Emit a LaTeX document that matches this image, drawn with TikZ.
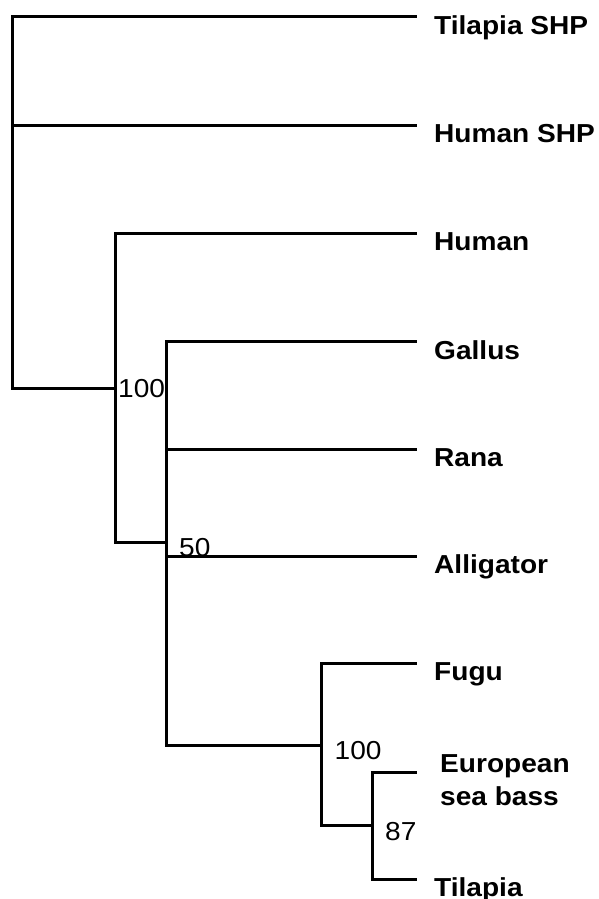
\documentclass[tikz,border=0pt]{standalone}
\usepackage{fontspec}
\setmainfont[FakeStretch=1.08]{Liberation Sans}
\begin{document}
\begin{tikzpicture}[x=1pt,y=-1pt,
  branch/.style={line width=3pt, line cap=rect, line join=miter},
  leaflabel/.style={font=\fontsize{26}{33}\selectfont\bfseries, anchor=base west, inner sep=0pt, align=left},
  support/.style={font=\fontsize{26}{31}\selectfont, anchor=base west, inner sep=0pt}]
\useasboundingbox (0,0) rectangle (598,899);
% internal nodes
\coordinate (r) at (12.5,388.5);
\coordinate (A) at (115.5,388.5);
\coordinate (B) at (166.5,542.5);
\coordinate (C) at (321.5,745.5);
\coordinate (D) at (372.5,825.5);
% leaf ends
\coordinate (e1) at (415,16.5);
\coordinate (e2) at (415,125.5);
\coordinate (e3) at (415,233.5);
\coordinate (e4) at (415,341.5);
\coordinate (e5) at (415,449.5);
\coordinate (e6) at (415,556.5);
\coordinate (e7) at (415,663.5);
\coordinate (e8) at (415,772.5);
\coordinate (e9) at (415,879.5);
% branches
\draw[branch] (r) |- (e1);
\draw[branch] (r) |- (e2);
\draw[branch] (r) -- (A);
\draw[branch] (A) |- (e3);
\draw[branch] (A) |- (B);
\draw[branch] (B) |- (e4);
\draw[branch] (B) |- (e5);
\draw[branch] (B) |- (e6);
\draw[branch] (B) |- (C);
\draw[branch] (C) |- (e7);
\draw[branch] (C) |- (D);
\draw[branch] (D) |- (e8);
\draw[branch] (D) |- (e9);
% leaf labels
\node[leaflabel] (l1) at (434,34.2) {Tilapia SHP};
\node[leaflabel] (l2) at (434,142.8) {Human SHP};
\node[leaflabel] (l3) at (434,250.8) {Human};
\node[leaflabel] (l4) at (434,359.2) {Gallus};
\node[leaflabel] (l5) at (434,466.5) {Rana};
\node[leaflabel] (l6) at (434,573.8) {Alligator};
\node[leaflabel] (l7) at (434,680.8) {Fugu};
\node[leaflabel] (l8) at (440,805) {European\\sea bass};
\node[leaflabel] (l9) at (434,896.8) {Tilapia};
% support values
\node[support] (s1) at (118,397.3) {100};
\node[support] (s2) at (179,556) {50};
\node[support] (s3) at (334.5,759.3) {100};
\node[support] (s4) at (385,840) {87};
\end{tikzpicture}
\end{document}
